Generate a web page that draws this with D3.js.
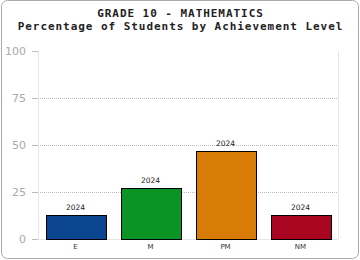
<!DOCTYPE html>
<html>
<head>
<meta charset="utf-8">
<script src="https://cdn.jsdelivr.net/npm/d3@7"></script>
<style>
  body { margin: 0; background: #fff; }
</style>
</head>
<body>
<div id="chart"></div>
<script>
// chart data
var levels = ["E", "M", "PM", "NM"];
var percents = [13, 27, 47, 13];
var yearLabels = ["2024", "2024", "2024", "2024"];
var barColors = ["#0b4590", "#0a9424", "#d87c07", "#a80620"];
var yTicks = [0, 25, 50, 75, 100];
var titleLines = ["GRADE 10 - MATHEMATICS", "Percentage of Students by Achievement Level"];

var svgWidth = 360;
var svgHeight = 260;
var margin = { top: 51, right: 22, bottom: 21, left: 38 };
var width = svgWidth - margin.left - margin.right;
var height = svgHeight - margin.top - margin.bottom;

var svg = d3.select("#chart")
  .append("svg")
  .attr("width", svgWidth)
  .attr("height", svgHeight);

// outer frame
svg.append("rect")
  .attr("x", 1.5)
  .attr("y", 0.5)
  .attr("width", svgWidth - 3)
  .attr("height", svgHeight - 2)
  .attr("rx", 6)
  .attr("fill", "#fff")
  .attr("stroke", "#aaa")
  .attr("stroke-width", 1);

// title (two lines)
svg.selectAll(".title")
  .data(titleLines)
  .enter()
  .append("text")
  .attr("class", "title")
  .attr("x", svgWidth / 2 + 0.5)
  .attr("y", (d, i) => 16.5 + i * 13)
  .attr("text-anchor", "middle")
  .attr("font-family", "DejaVu Sans Mono")
  .attr("font-weight", "bold")
  .attr("font-size", "11px")
  .attr("letter-spacing", "0.95px")
  .attr("fill", "#222")
  .text(d => d);

var chart_group = svg.append("g")
  .attr("transform", `translate(${margin.left}, ${margin.top})`);

var xBandScale = d3.scaleBand()
  .domain(levels)
  .range([0, width])
  .paddingInner(0.2)
  .paddingOuter(0.1);

var yLinearScale = d3.scaleLinear()
  .domain([0, 100])
  .range([height, 0]);

// grid lines
chart_group.selectAll(".grid")
  .data(yTicks.filter(t => t > 0 && t < 100))
  .enter()
  .append("line")
  .attr("x1", 0)
  .attr("x2", width)
  .attr("y1", d => Math.round(yLinearScale(d)) + 0.5)
  .attr("y2", d => Math.round(yLinearScale(d)) + 0.5)
  .attr("stroke", "#bbb")
  .attr("stroke-dasharray", "1,1");

// plot frame lines (left, right, bottom)
chart_group.append("line")
  .attr("x1", 0.5).attr("x2", 0.5)
  .attr("y1", 0).attr("y2", height)
  .attr("stroke", "#e6e6e6");
chart_group.append("line")
  .attr("x1", width + 0.5).attr("x2", width + 0.5)
  .attr("y1", 0).attr("y2", height)
  .attr("stroke", "#e6e6e6");
chart_group.append("line")
  .attr("x1", 0).attr("x2", width)
  .attr("y1", height + 0.5).attr("y2", height + 0.5)
  .attr("stroke", "#e6e6e6");

// y axis
var leftAxis = d3.axisLeft(yLinearScale)
  .tickValues(yTicks)
  .tickSize(6)
  .tickPadding(6);

var yAxisGroup = chart_group.append("g")
  .call(leftAxis);
yAxisGroup.select(".domain").remove();
yAxisGroup.selectAll(".tick line").attr("stroke", "#bbb");
yAxisGroup.selectAll(".tick text")
  .attr("fill", "#aaa")
  .attr("font-family", "DejaVu Sans")
  .attr("font-size", "11px");

// x axis labels
var bottomAxis = d3.axisBottom(xBandScale)
  .tickSize(0)
  .tickPadding(5);

var xAxisGroup = chart_group.append("g")
  .attr("transform", `translate(0, ${height})`)
  .call(bottomAxis);
xAxisGroup.select(".domain").remove();
xAxisGroup.selectAll(".tick text")
  .attr("fill", "#333")
  .attr("font-family", "DejaVu Sans")
  .attr("font-size", "7px");

// bars
chart_group.selectAll(".bar")
  .data(levels)
  .enter()
  .append("rect")
  .attr("class", "bar")
  .attr("x", d => Math.round(xBandScale(d)) + 0.5)
  .attr("y", (d, i) => Math.round(yLinearScale(percents[i])) + 0.5)
  .attr("width", Math.round(xBandScale.bandwidth()))
  .attr("height", (d, i) => height - Math.round(yLinearScale(percents[i])))
  .attr("fill", (d, i) => barColors[i])
  .attr("stroke", "#000")
  .attr("stroke-width", 1);

// year labels above bars
chart_group.selectAll(".yearText")
  .data(levels)
  .enter()
  .append("text")
  .attr("class", "yearText")
  .attr("x", d => xBandScale(d) + xBandScale.bandwidth() / 2)
  .attr("y", (d, i) => yLinearScale(percents[i]) - 5)
  .attr("text-anchor", "middle")
  .attr("font-family", "DejaVu Sans")
  .attr("font-size", "7.5px")
  .attr("fill", "#222")
  .text((d, i) => yearLabels[i]);
</script>
</body>
</html>
